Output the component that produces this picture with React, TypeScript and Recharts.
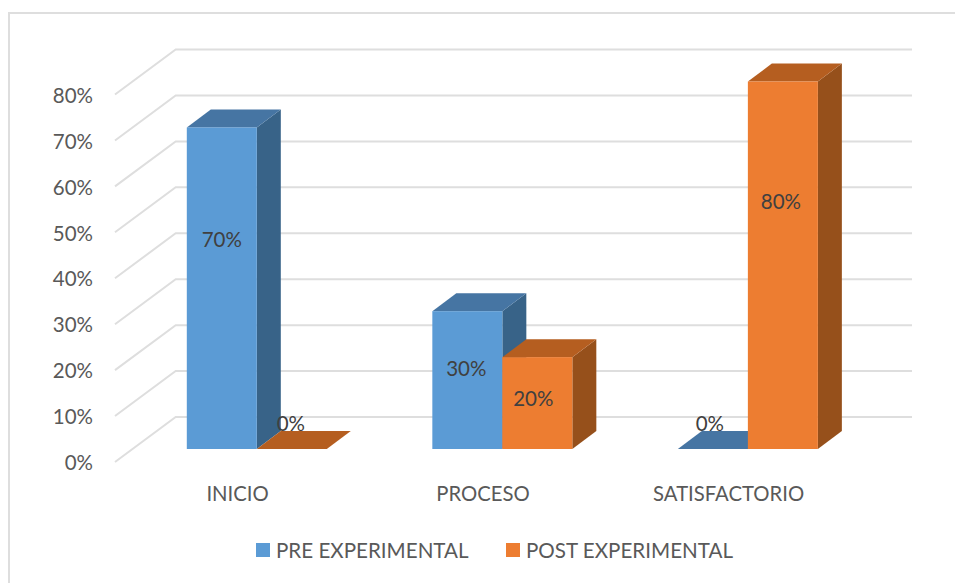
import { BarChart, Bar, XAxis, YAxis, CartesianGrid, Legend, LabelList } from 'recharts'

const categories = ['INICIO', 'PROCESO', 'SATISFACTORIO']
const preExperimental = [70, 30, 0]
const postExperimental = [0, 20, 80]
const yTicks = [0, 10, 20, 30, 40, 50, 60, 70, 80]

const chartData = categories.map((name, i) => ({
  name,
  pre: preExperimental[i],
  post: postExperimental[i],
}))

const FONT = 'Lato, "Open Sans", sans-serif'
const TEXT = '#595959'
const LABEL = '#404040'
const GRID = '#dedede'
const BLUE = { face: '#5b9bd5', top: '#4675a3', side: '#386388' }
const ORANGE = { face: '#ed7d31', top: '#b55e20', side: '#96501b' }

// label placement above the bar foot, the old 3D chart does not center them
const PRE_LABEL_NUDGE = [
  { dx: 0, lift: 210 },
  { dx: -1, lift: 81 },
  { dx: -3, lift: 26 },
]
const POST_LABEL_NUDGE = [
  { dx: -1, lift: 26 },
  { dx: -4, lift: 51 },
  { dx: -2, lift: 248 },
]

function Box3D({ x, y, width, height, colors }: any) {
  const dx = 24
  const dy = 18
  const right = x + width
  const bottom = y + height
  return (
    <g>
      <path
        d={`M${right},${y} L${right + dx},${y - dy} L${right + dx},${bottom - dy} L${right},${bottom} Z`}
        fill={colors.side}
      />
      <path
        d={`M${x},${y} L${x + dx},${y - dy} L${right + dx},${y - dy} L${right},${y} Z`}
        fill={colors.top}
      />
      <rect x={x} y={y} width={width} height={height} fill={colors.face} />
    </g>
  )
}

// floor line in front, then up and along the back wall
function WallLine({ y1 }: any) {
  return (
    <polyline
      points={`115,${y1 + 13} 175.7,${y1 - 32} 912,${y1 - 32}`}
      fill="none"
      stroke={GRID}
      strokeWidth={2}
    />
  )
}

function YTick({ y, payload }: any) {
  return (
    <text x={93} y={y + 13.2} textAnchor="end" dominantBaseline="central" fontSize={20.5} fontFamily={FONT} fill={TEXT}>
      {payload.value}%
    </text>
  )
}

function XTick({ x, payload }: any) {
  return (
    <text x={x - 19} y={492.7} textAnchor="middle" dominantBaseline="central" fontSize={20.3} fontFamily={FONT} fill={TEXT}>
      {payload.value}
    </text>
  )
}

function barLabel(nudges: { dx: number; lift: number }[]) {
  return function BarValue({ x, y, width, height, value, index }: any) {
    const n = nudges[index]
    return (
      <text
        x={x + width / 2 + n.dx}
        y={y + height - n.lift}
        textAnchor="middle"
        dominantBaseline="central"
        fontSize={20.5}
        fontFamily={FONT}
        fill={LABEL}
      >
        {value}%
      </text>
    )
  }
}

function LegendRow({ payload }: any) {
  return (
    <div style={{ display: 'flex', alignItems: 'center', fontFamily: FONT, fontSize: 20.6, color: TEXT, lineHeight: '24px' }}>
      {(payload ?? []).map((item: any) => (
        <div key={item.value} style={{ display: 'flex', alignItems: 'center', width: 250 }}>
          <span style={{ width: 14, height: 14, background: item.color, marginRight: 6 }} />
          <span>{item.value}</span>
        </div>
      ))}
    </div>
  )
}

export default function App() {
  return (
    <div style={{ position: 'absolute', left: 0, top: 0, width: 955, height: 583, background: '#fff', overflow: 'hidden' }}>
      <div
        style={{
          position: 'absolute',
          left: 8,
          top: 12,
          right: -4,
          bottom: -4,
          borderLeft: `2px solid ${GRID}`,
          borderTop: `2px solid ${GRID}`,
        }}
      />
      <BarChart
        width={955}
        height={583}
        data={chartData}
        margin={{ top: 81.5, right: 84.6, bottom: 84, left: 33.8 }}
        barSize={70}
        barGap={0}
      >
        <CartesianGrid vertical={false} horizontal={(props: any) => <WallLine key={props.y1} {...props} />} />
        <XAxis dataKey="name" axisLine={false} tickLine={false} height={50} interval={0} tick={<XTick />} />
        <YAxis
          domain={[0, 80]}
          ticks={yTicks}
          axisLine={false}
          tickLine={false}
          width={100}
          tick={<YTick />}
        />
        <Legend
          layout="horizontal"
          verticalAlign="middle"
          align="center"
          itemSorter={null}
          wrapperStyle={{ left: 256, top: 538, width: 520 }}
          content={<LegendRow />}
        />
        <Bar
          dataKey="pre"
          name="PRE EXPERIMENTAL"
          fill={BLUE.face}
          isAnimationActive={false}
          shape={(p: any) => <Box3D {...p} colors={BLUE} />}
        >
          <LabelList dataKey="pre" content={barLabel(PRE_LABEL_NUDGE)} />
        </Bar>
        <Bar
          dataKey="post"
          name="POST EXPERIMENTAL"
          fill={ORANGE.face}
          isAnimationActive={false}
          shape={(p: any) => <Box3D {...p} colors={ORANGE} />}
        >
          <LabelList dataKey="post" content={barLabel(POST_LABEL_NUDGE)} />
        </Bar>
      </BarChart>
    </div>
  )
}
